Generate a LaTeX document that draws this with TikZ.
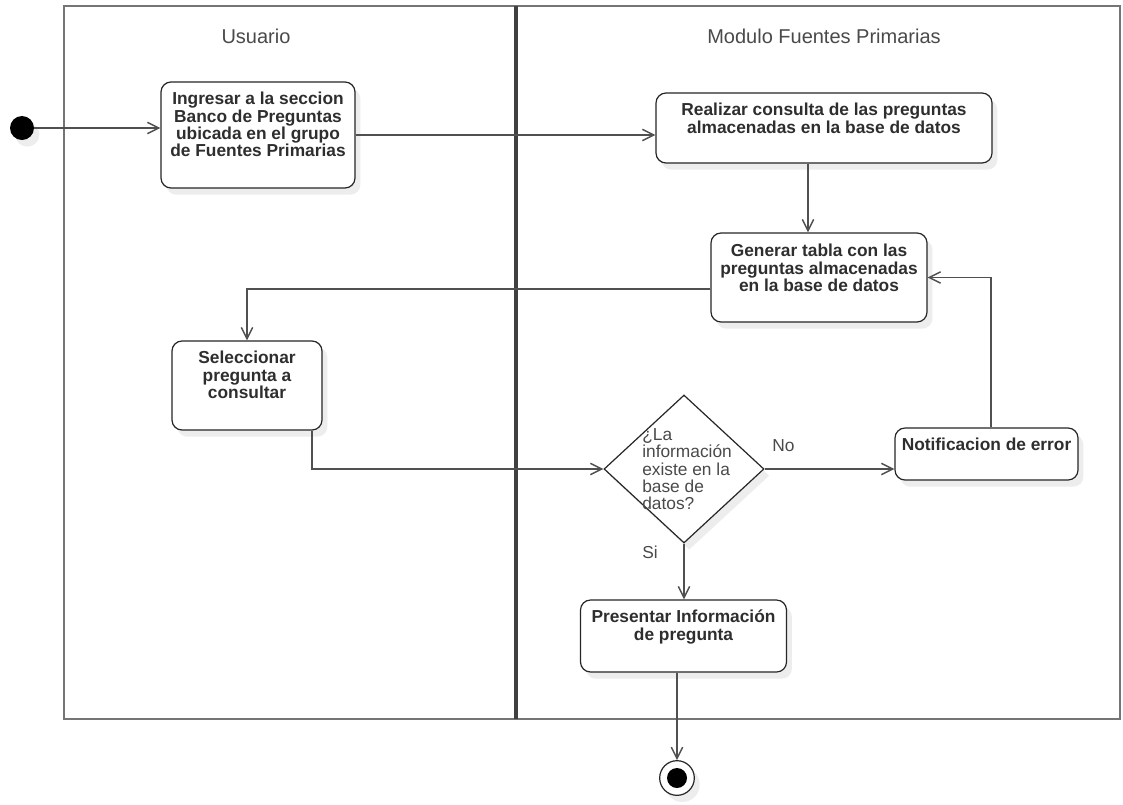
\documentclass[tikz,border=0pt]{standalone}
\usepackage{fontspec}
\setmainfont{Liberation Sans}
\usetikzlibrary{arrows.meta,shapes.geometric,shadows}
\definecolor{txt}{HTML}{2E2E2E}
\definecolor{headc}{HTML}{4A4A4A}
\definecolor{linec}{HTML}{505050}
\definecolor{framec}{HTML}{757575}
\definecolor{divc}{HTML}{404040}
\definecolor{shadowc}{HTML}{EDEDED}
\newcommand\mytightlines{\lineskiplimit=-20pt\relax\lineskip=0pt\relax}
\begin{document}
\begin{tikzpicture}[x=0.75pt,y=-0.75pt,
  shd/.style={drop shadow={shadow xshift=4pt,shadow yshift=-5pt,fill=shadowc,opacity=1}},
  act/.style={draw=black!85,line width=0.9pt,rounded corners=7.5pt,fill=white,shd,inner sep=0pt},
  lbl/.style={inner sep=0pt,align=center,font=\bfseries\fontsize{13}{13}\selectfont\mytightlines,text=txt},
  plain/.style={inner sep=0pt,font=\fontsize{13}{13}\selectfont\mytightlines,text=headc},
  head/.style={inner sep=0pt,font=\fontsize{15}{15}\selectfont,text=headc},
  conn/.style={draw=linec,line width=1.1pt,-{Straight Barb[length=8.5pt,width=8.5pt]}},
  frame/.style={draw=framec,line width=1.6pt},
  divider/.style={draw=divc,line width=2.3pt},
  dia/.style={diamond,draw=black!85,line width=0.9pt,fill=white,shd,inner sep=0pt,minimum width=120pt,minimum height=111pt}
]
\useasboundingbox (0,0) rectangle (1123,804);
\fill[white] (0,0) rectangle (1123,804);

% swimlanes
\draw[frame] (64,6) rectangle (1120,719);
\draw[divider] (516,6) -- (516,719);
\node[head,anchor=base] (h1) at (256,43) {Usuario};
\node[head,anchor=base] (h2) at (824,43) {Modulo Fuentes Primarias};

% start / end
\node[circle,fill=black,minimum size=18pt,inner sep=0pt,shd] (start) at (22,128) {};
\node[circle,draw=black!85,line width=0.9pt,fill=white,minimum size=26pt,inner sep=0pt,shd] (endo) at (677,778) {};
\node[circle,fill=black,minimum size=15pt,inner sep=0pt] (endi) at (677,778) {};

% activities
\node[act,minimum width=145.5pt,minimum height=79.5pt] (box1) at (258,135) {};
\node[lbl,anchor=north] (t1) at (258,92) {\strut Ingresar a la seccion\\Banco de Preguntas\\ubicada en el grupo\\de Fuentes Primarias};

\node[act,minimum width=252pt,minimum height=52.5pt] (box2) at (824,128) {};
\node[lbl,anchor=north] (t2) at (824,103) {\strut Realizar consulta de las preguntas\\almacenadas en la base de datos};

\node[act,minimum width=162pt,minimum height=66.75pt] (box3) at (819,277.5) {};
\node[lbl,anchor=north] (t3) at (819,244) {\strut Generar tabla con las\\preguntas almacenadas\\en la base de datos};

\node[act,minimum width=112.5pt,minimum height=66.75pt] (box4) at (247,385.5) {};
\node[lbl,anchor=north] (t4) at (247,351) {\strut Seleccionar\\pregunta a\\consultar};

\node[dia] (dec) at (684,469) {};
\node[plain,anchor=north west,align=left] (tq) at (642,428) {\strut ¿La\\información\\existe en la\\base de\\datos?};

\node[act,minimum width=137.25pt,minimum height=39pt] (notif) at (986.5,454) {};
\node[lbl,anchor=north] (t5) at (986.5,438) {\strut Notificacion de error};

\node[act,minimum width=154.5pt,minimum height=54pt] (box5) at (683.5,636) {};
\node[lbl,anchor=north] (t6) at (683.5,610) {\strut Presentar Información\\de pregunta};

\node[plain,anchor=base west] (lno) at (772,451) {No};
\node[plain,anchor=base west] (lsi) at (642,558) {Si};

% helper coordinates
\coordinate (x808) at (808,0);
\coordinate (y289) at (0,289);
\coordinate (x312) at (312,0);
\coordinate (x991) at (991,0);

% connectors
\draw[conn] (start) -- (start -| box1.west);
\draw[conn] (box1.east) -- (box1.east -| box2.west);
\draw[conn] (box2.south -| x808) -- (box3.north -| x808);
\draw[conn] (box3.west |- y289) -| (box4.north);
\draw[conn] (box4.south -| x312) |- (dec.west);
\draw[conn] (dec.east) -- (dec.east -| notif.west);
\draw[conn] (notif.north -| x991) |- (box3.east);
\draw[conn] (dec.south) -- (box5.north -| dec.south);
\draw[conn] (box5.south -| endo) -- (endo.north);
\end{tikzpicture}
\end{document}
